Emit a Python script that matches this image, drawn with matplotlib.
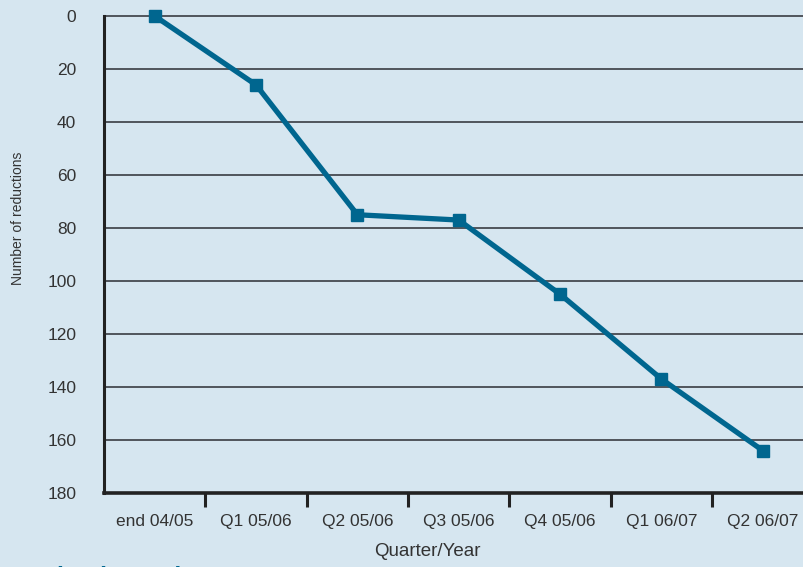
import matplotlib
matplotlib.use("Agg")
import matplotlib.pyplot as plt
import numpy as np

quarters = ["end 04/05", "Q1 05/06", "Q2 05/06", "Q3 05/06", "Q4 05/06", "Q1 06/07", "Q2 06/07"]
reductions = [0, 26, 75, 77, 105, 137, 164]
y_ticks = [0, 20, 40, 60, 80, 100, 120, 140, 160, 180]

BG = "#d6e6f0"
LINE = "#00668f"
TEXT = "#333333"

plt.rcParams["font.family"] = ["Liberation Sans", "DejaVu Sans"]

fig = plt.figure(figsize=(8.04, 5.67), dpi=100, facecolor=BG)
ax_w, ax_h = 709.5, 477
ax = fig.add_axes([104 / 804, 74 / 567, ax_w / 804, ax_h / 567], facecolor=BG)

x = np.arange(len(quarters))
ax.plot(x, reductions, color=LINE, lw=3.8, marker="s", ms=8.5,
        markerfacecolor=LINE, markeredgecolor=LINE, clip_on=False, zorder=5)

ax.set_xlim(-0.5, len(quarters) - 0.5)
ax.set_ylim(180, 0)
ax.set_yticks(y_ticks)
ax.set_yticklabels([str(v) for v in y_ticks], fontsize=12.5, color=TEXT)
ax.tick_params(axis="y", length=0, pad=20)

for v in y_ticks[:-1]:
    ax.axhline(v, color="#50555b", lw=1.4, zorder=1, clip_on=False)

ax.set_xticks(x)
ax.set_xticklabels(quarters, fontsize=12.5, color=TEXT)
ax.tick_params(axis="x", which="major", length=0, pad=15)
ax.set_xticks(np.arange(0.5, len(quarters) - 0.5, 1), minor=True)
ax.tick_params(axis="x", which="minor", length=10, width=2.2, color="#222222")

for s in ["top", "right"]:
    ax.spines[s].set_visible(False)
ax.spines["left"].set_linewidth(2.2)
ax.spines["left"].set_color("#222222")
ax.spines["bottom"].set_linewidth(2.6)
ax.spines["bottom"].set_color("#222222")

ax.set_ylabel("Number of reductions", fontsize=10, color=TEXT)
ax.yaxis.set_label_coords((18 - 104) / ax_w, (493 - 218) / ax_h)
ax.set_xlabel("Quarter/Year", fontsize=13.5, color=TEXT)
ax.xaxis.set_label_coords((427 - 104) / ax_w, -(551 - 493) / ax_h)
ax.xaxis.label.set_va("center")
ax.yaxis.label.set_va("center")

# section heading beneath the chart, running off the bottom edge
fig.text(18 / 804, -17 / 567, "Reduction trajectory", fontsize=17.5, fontweight="bold",
         color=LINE, va="baseline", ha="left")

fig.savefig("out.png", dpi=100, facecolor=BG)
